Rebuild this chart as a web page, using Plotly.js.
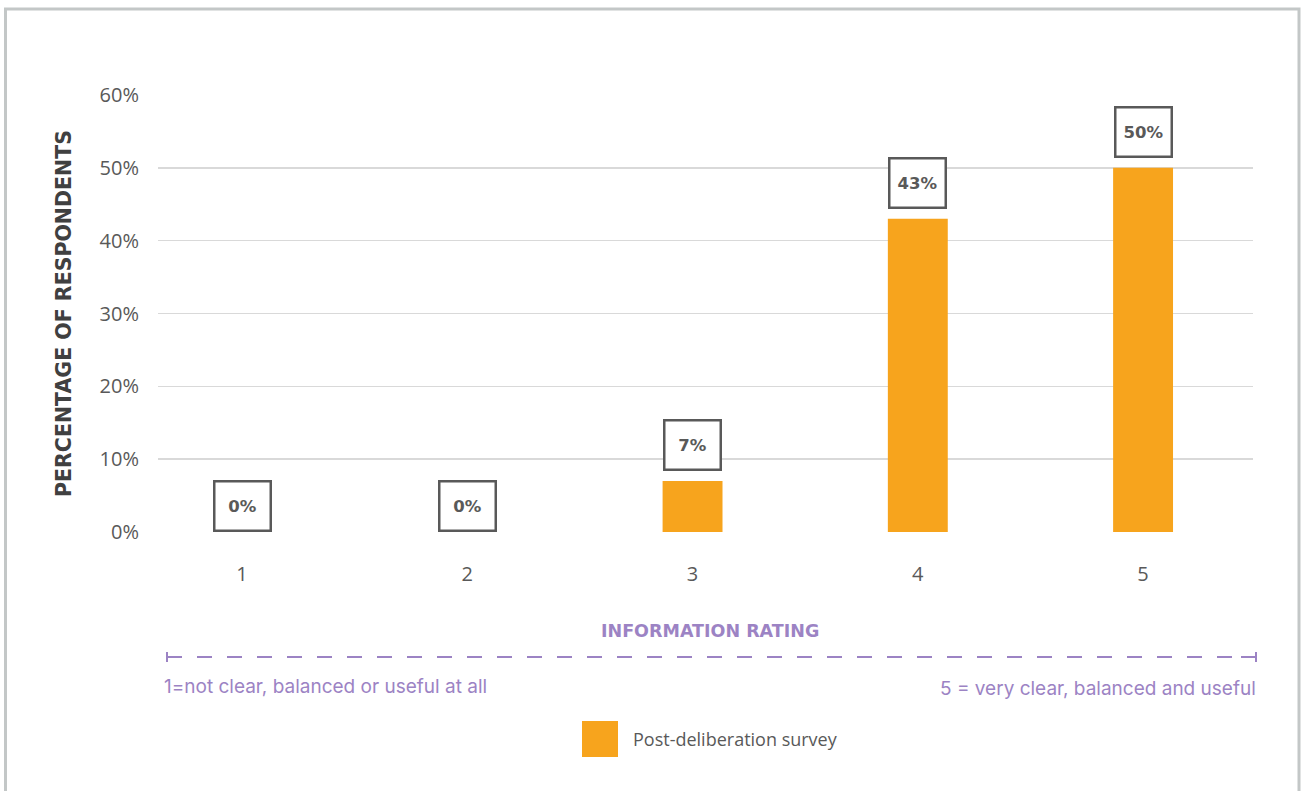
<!DOCTYPE html>
<html>
<head>
<meta charset="utf-8">
<script src="https://cdn.plot.ly/plotly-3.0.1.min.js"></script>
<style>
  html, body { margin: 0; padding: 0; background: #ffffff; }
  #chart { width: 1301px; height: 791px; }
</style>
</head>
<body>
<div id="chart"></div>
<script>
// Information rating survey results
const ratings = [1, 2, 3, 4, 5];
const ratingLabels = ['1', '2', '3', '4', '5'];
const percentages = [0, 0, 7, 43, 50];
const seriesName = 'Post-deliberation survey';
const yTickValues = [0, 10, 20, 30, 40, 50, 60];
const yTickLabels = ['0%', '10%', '20%', '30%', '40%', '50%', '60%'];
const xTitle = 'INFORMATION RATING';
const yTitle = 'PERCENTAGE OF RESPONDENTS';
const scaleLow = '1=not clear, balanced or useful at all';
const scaleHigh = '5 = very clear, balanced and useful';

const W = 1301, H = 791;
const M = { l: 158, r: 48, t: 95, b: 259 };
const plotW = W - M.l - M.r;
const plotH = H - M.t - M.b;
// pixel -> paper coordinate helpers for decorations outside the plot area
const px = x => (x - M.l) / plotW;
const py = y => (H - M.b - y) / plotH;

const ORANGE = '#F7A41D';
const PURPLE = '#9C83C4';
const GREY = '#595959';
const BOLD_FONT = 'DejaVu Sans, sans-serif';

const trace = {
  type: 'bar',
  x: ratings,
  y: percentages,
  name: seriesName,
  width: 0.266,
  marker: { color: ORANGE },
  hoverinfo: 'skip',
  showlegend: false
};

// boxed value labels above each bar
const valueLabels = ratings.map((r, i) => ({
  x: r, y: percentages[i], xref: 'x', yref: 'y',
  text: '<b>' + percentages[i] + '%</b>',
  showarrow: false,
  yanchor: 'bottom',
  yshift: percentages[i] > 0 ? 10 : 0,
  width: 54, height: 47,
  borderpad: 0,
  bordercolor: GREY, borderwidth: 2.5,
  bgcolor: '#ffffff',
  font: { family: BOLD_FONT, size: 16.5, color: GREY }
}));

const textNotes = [
  { x: px(710), y: py(631), text: '<b>' + xTitle + '</b>', xanchor: 'center', yanchor: 'middle',
    font: { family: BOLD_FONT, size: 17.5, color: PURPLE } },
  { x: px(162), y: py(686), text: scaleLow, xanchor: 'left', yanchor: 'middle',
    font: { family: 'Inter, sans-serif', size: 19, color: PURPLE } },
  { x: px(1258), y: py(688), text: scaleHigh, xanchor: 'right', yanchor: 'middle',
    font: { family: 'Inter, sans-serif', size: 19, color: PURPLE } },
  { x: px(631), y: py(739), text: seriesName, xanchor: 'left', yanchor: 'middle',
    font: { family: 'Open Sans, sans-serif', size: 18, color: GREY } }
].map(a => Object.assign({ xref: 'paper', yref: 'paper', showarrow: false }, a));

const shapes = [
  // outer frame
  { type: 'rect', xref: 'paper', yref: 'paper', x0: px(5.5), x1: px(1299), y0: py(805), y1: py(9),
    line: { color: '#C3C7C7', width: 3 }, fillcolor: 'rgba(0,0,0,0)' },
  // dashed rating scale line with end caps
  { type: 'line', xref: 'paper', yref: 'paper', x0: px(167), x1: px(1256), y0: py(657), y1: py(657),
    line: { color: PURPLE, width: 2, dash: '15px,15px' } },
  { type: 'line', xref: 'paper', yref: 'paper', x0: px(167), x1: px(167), y0: py(652), y1: py(662),
    line: { color: PURPLE, width: 2 } },
  { type: 'line', xref: 'paper', yref: 'paper', x0: px(1256), x1: px(1256), y0: py(652), y1: py(662),
    line: { color: PURPLE, width: 2 } },
  { type: 'line', xref: 'paper', yref: 'paper', x0: px(1241), x1: px(1256), y0: py(657), y1: py(657),
    line: { color: PURPLE, width: 2 } },
  // legend swatch
  { type: 'rect', xref: 'paper', yref: 'paper', x0: px(582), x1: px(618), y0: py(757), y1: py(721),
    line: { width: 0 }, fillcolor: ORANGE }
];

const layout = {
  width: W, height: H,
  margin: M,
  paper_bgcolor: '#ffffff',
  plot_bgcolor: '#ffffff',
  showlegend: false,
  xaxis: {
    type: 'linear',
    range: [0.627, 5.488],
    tickvals: ratings,
    ticktext: ratingLabels,
    showgrid: false, zeroline: false, showline: false,
    ticks: '',
    ticklabelstandoff: 28,
    tickfont: { family: 'Open Sans, sans-serif', size: 20, color: GREY },
    fixedrange: true
  },
  yaxis: {
    range: [0, 60],
    tickvals: yTickValues,
    ticktext: yTickLabels,
    showgrid: true, gridcolor: '#D9D9D9', gridwidth: 1.5,
    zeroline: false, showline: false,
    ticks: '',
    ticklabelstandoff: 18,
    tickfont: { family: 'Open Sans, sans-serif', size: 20, color: GREY },
    title: { text: '<b>' + yTitle + '</b>', standoff: 22,
      font: { family: BOLD_FONT, size: 20.5, color: '#404040' } },
    fixedrange: true
  },
  annotations: valueLabels.concat(textNotes),
  shapes: shapes
};

Plotly.newPlot('chart', [trace], layout, { displayModeBar: false, staticPlot: true });
</script>
</body>
</html>
